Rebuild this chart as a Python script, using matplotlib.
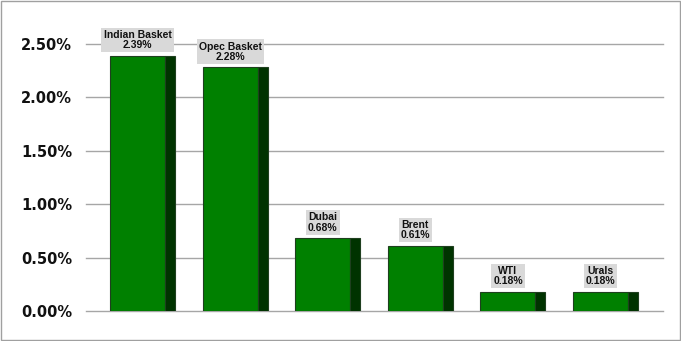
import matplotlib.pyplot as plt
from matplotlib.patches import Rectangle

CATEGORIES = ["Indian Basket", "Opec Basket", "Dubai", "Brent", "WTI", "Urals"]
VALUES = [2.39, 2.28, 0.68, 0.61, 0.18, 0.18]
Y_TICKS = [0.0, 0.5, 1.0, 1.5, 2.0, 2.5]

FRONT_COLOR = "#008000"
SIDE_COLOR = "#003300"
EDGE_COLOR = "#1f3f1f"
GRID_COLOR = "#a6a6a6"
FRONT_W = 0.594
SIDE_W = 0.108


def main():
    fig = plt.figure(figsize=(6.81, 3.41), dpi=100)
    ax = fig.add_axes([0.1263, 0.088, 0.8473, 0.783])

    x = list(range(len(CATEGORIES)))
    total_w = FRONT_W + SIDE_W
    lefts = [i - total_w / 2 for i in x]
    ax.bar(lefts, VALUES, width=FRONT_W, align="edge", color=FRONT_COLOR,
           edgecolor=EDGE_COLOR, linewidth=0.8, zorder=3)
    ax.bar([l + FRONT_W for l in lefts], VALUES, width=SIDE_W, align="edge",
           color=SIDE_COLOR, edgecolor=EDGE_COLOR, linewidth=0.8, zorder=3)

    for left, name, val in zip(lefts, CATEGORIES, VALUES):
        ax.annotate(f"{name}\n{val:.2f}%", (left + FRONT_W / 2, val),
                    xytext=(0, 4), textcoords="offset points",
                    ha="center", va="bottom", fontsize=7.5, fontweight="bold",
                    family="Liberation Sans", linespacing=1.05, color="#111111",
                    bbox=dict(boxstyle="square,pad=0.2", facecolor="#d9d9d9",
                              edgecolor="none"),
                    zorder=4, annotation_clip=False)

    ax.set_xlim(-0.61, 5.62)
    ax.set_ylim(0, 2.5)
    ax.set_yticks(Y_TICKS)
    ax.set_yticklabels([f"{t:.2f}%" for t in Y_TICKS], fontsize=10.5,
                       fontweight="bold", family="DejaVu Sans", color="#111111")
    ax.set_xticks([])
    ax.tick_params(axis="y", length=0, pad=10)
    ax.yaxis.grid(True, color=GRID_COLOR, linewidth=1.0, zorder=0)
    for line in ax.get_ygridlines():
        line.set_clip_on(False)
    ax.set_axisbelow(True)
    for s in ax.spines.values():
        s.set_visible(False)

    fig.patches.append(Rectangle((0.001, 0.003), 0.997, 0.994, transform=fig.transFigure,
                                 fill=False, edgecolor="#a0a0a0", linewidth=1.0))
    fig.savefig("out.png", dpi=100)
    plt.close(fig)


if __name__ == "__main__":
    main()
